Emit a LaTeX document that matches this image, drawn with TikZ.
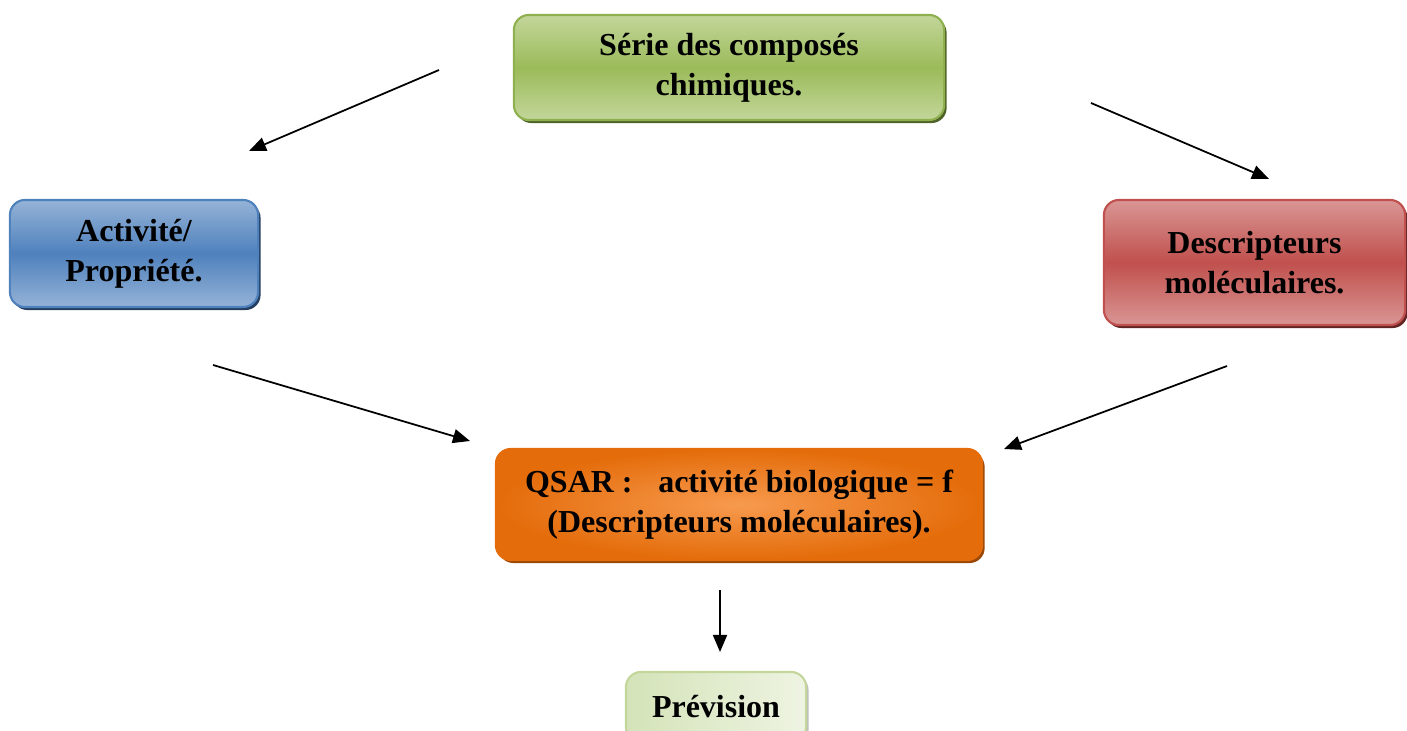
\documentclass[tikz,border=0pt]{standalone}
\usepackage{fontspec}
\setmainfont{Liberation Serif}
\usetikzlibrary{shadows,arrows.meta}
\definecolor{GreenL}{HTML}{C3D69B}
\definecolor{GreenM}{HTML}{9BBB59}
\definecolor{GreenB}{HTML}{8EB04E}
\definecolor{GreenS}{HTML}{4F6228}
\definecolor{BlueL}{HTML}{95B3D7}
\definecolor{BlueM}{HTML}{4F81BD}
\definecolor{BlueS}{HTML}{243F60}
\definecolor{RedL}{HTML}{D99694}
\definecolor{RedM}{HTML}{C0504D}
\definecolor{RedS}{HTML}{632523}
\definecolor{OrangeL}{HTML}{F79A4E}
\definecolor{OrangeM}{HTML}{E46C0A}
\definecolor{OrangeS}{HTML}{984807}
\definecolor{PaleL}{HTML}{D4E3B8}
\definecolor{PaleR}{HTML}{EEF4E2}

\begin{document}
\begin{tikzpicture}[x=0.01cm,y=-0.01cm,
    box/.style={rounded corners=0.15cm, inner sep=0pt, align=center, line width=0.6pt,
      font=\fontsize{9.1}{11.4}\selectfont\bfseries},
    shad/.style={drop shadow={shadow xshift=0.025cm, shadow yshift=-0.03cm, opacity=1, fill=#1}},
    arr/.style={-{Triangle[length=0.17cm,width=0.14cm]}, line width=0.5pt}]
        \useasboundingbox (0,0) rectangle (1407,731);

        % coloured boxes
        \node[box, shad=GreenS, draw=GreenB, top color=GreenL, bottom color=GreenL, middle color=GreenM,
              minimum width=4.3cm, minimum height=1.05cm] (Serie) at (729,67.5)
              {Série des composés\\chimiques.};
        \node[box, shad=BlueS, draw=BlueM, top color=BlueL, bottom color=BlueL, middle color=BlueM,
              minimum width=2.48cm, minimum height=1.07cm] (Activ) at (134,253.5)
              {Activité/\\Propriété.};
        \node[box, shad=RedS, draw=RedM, top color=RedL, bottom color=RedL, middle color=RedM,
              minimum width=3.01cm, minimum height=1.25cm] (Descr) at (1254.5,262.5)
              {Descripteurs\\moléculaires.};
        \node[box, shad=OrangeS, draw=OrangeM, inner color=OrangeL, outer color=OrangeM,
              minimum width=4.86cm, minimum height=1.11cm] (QSAR) at (739,504.5)
              {QSAR :\hspace{0.55em} activité biologique = f\\(Descripteurs moléculaires).};
        \node[box, shad=black!25, draw=GreenL, shading angle=135, left color=PaleL, right color=PaleR,
              minimum width=1.8cm, minimum height=0.7cm] (Prev) at (716,707)
              {Prévision};

        % free arrows
        \coordinate (a1s) at (439,70);   \coordinate (a1e) at (249,151);
        \coordinate (a2s) at (1091,103); \coordinate (a2e) at (1269,179);
        \coordinate (a3s) at (213,365);  \coordinate (a3e) at (470,441);
        \coordinate (a4s) at (1227,366); \coordinate (a4e) at (1004,449);
        \coordinate (a5s) at (720,590);  \coordinate (a5e) at (720,652);
        \draw[arr] (a1s) -- (a1e);
        \draw[arr] (a2s) -- (a2e);
        \draw[arr] (a3s) -- (a3e);
        \draw[arr] (a4s) -- (a4e);
        \draw[arr] (a5s) -- (a5e);
\end{tikzpicture}
\end{document}
